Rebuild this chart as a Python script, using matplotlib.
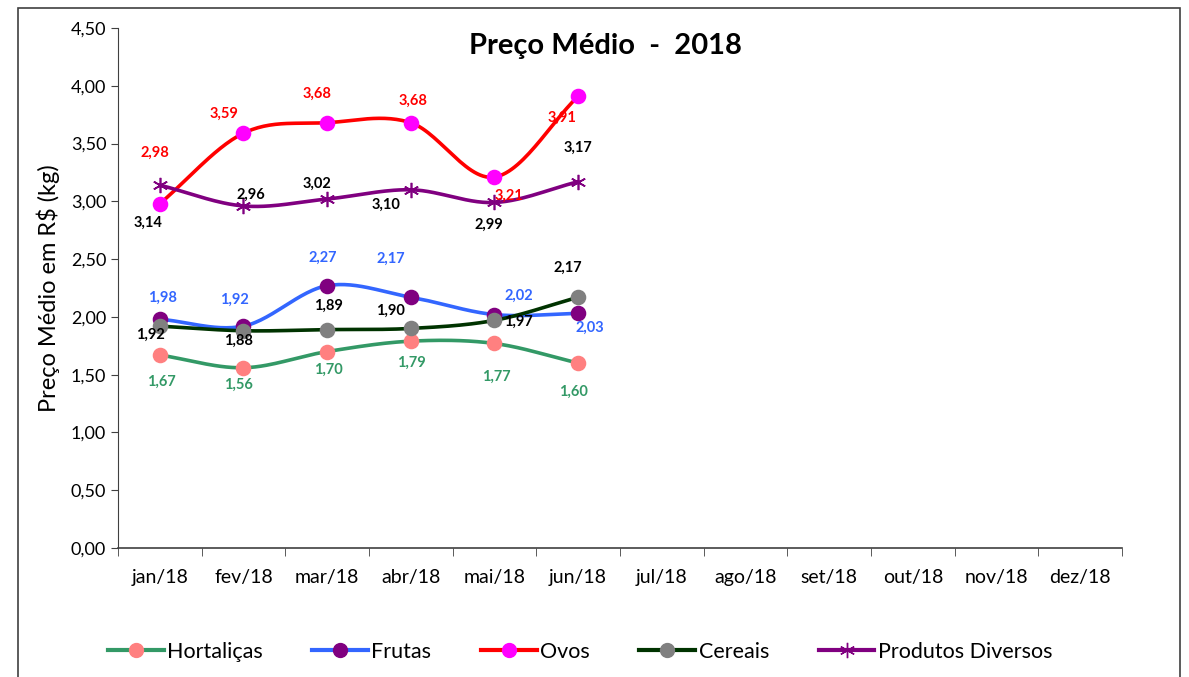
import matplotlib
matplotlib.use("Agg")
import matplotlib.pyplot as plt
import numpy as np
from matplotlib.patches import Rectangle

months = ["jan/18", "fev/18", "mar/18", "abr/18", "mai/18", "jun/18",
          "jul/18", "ago/18", "set/18", "out/18", "nov/18", "dez/18"]
hortalicas = [1.67, 1.56, 1.70, 1.79, 1.77, 1.60]
frutas = [1.98, 1.92, 2.27, 2.17, 2.02, 2.03]
ovos = [2.98, 3.59, 3.68, 3.68, 3.21, 3.91]
cereais = [1.92, 1.88, 1.89, 1.90, 1.97, 2.17]
diversos = [3.14, 2.96, 3.02, 3.10, 2.99, 3.17]

plt.rcParams['font.family'] = ['Lato', 'DejaVu Sans']

def smooth(x, y, n=30):
    x = np.asarray(x, float); y = np.asarray(y, float)
    px = np.concatenate([[2*x[0]-x[1]], x, [2*x[-1]-x[-2]]])
    py = np.concatenate([[2*y[0]-y[1]], y, [2*y[-1]-y[-2]]])
    xs, ys = [], []
    for i in range(1, len(px)-2):
        t = np.linspace(0, 1, n)
        for arr, out in ((px, xs), (py, ys)):
            p0, p1, p2, p3 = arr[i-1], arr[i], arr[i+1], arr[i+2]
            out.extend(0.5*((2*p1) + (-p0+p2)*t + (2*p0-5*p1+4*p2-p3)*t**2
                            + (-p0+3*p1-3*p2+p3)*t**3))
    return np.array(xs), np.array(ys)

fig = plt.figure(figsize=(11.89, 6.77), dpi=100)
ax = fig.add_axes([118/1189, 1-548/677, (1122-118)/1189, 520/677])

series = [
    ("Hortaliças", hortalicas, "#339966", "#FF8080", "o", "#339966",
     [(2, -27), (-5, -17), (1, -18), (1, -22), (2, -33), (-5, -29)]),
    ("Frutas", frutas, "#3366FF", "#800080", "o", "#3366FF",
     [(3, 21), (-9, 26), (-4, 28), (-20, 38), (24, 19), (12, -14)]),
    ("Ovos", ovos, "#FF0000", "#FF00FF", "o", "#FF0000",
     [(-5, 51), (-19, 19), (-10, 29), (2, 22), (14, -19), (-16, -22)]),
    ("Cereais", cereais, "#003300", "#808080", "o", "#000000",
     [(-9, -9), (-5, -10), (1, 24), (-20, 18), (24, -1), (-10, 29)]),
    ("Produtos Diversos", diversos, "#800080", "#800080", (6, 2, 0), "#000000",
     [(-12, -38), (7, 11), (-10, 15), (-25, -15), (-6, -22), (0, 34)]),
]

xpos = np.arange(len(hortalicas))
for name, vals, lc, mc, mk, tc, offs in series:
    sx, sy = smooth(xpos, vals)
    ms = 10 if mk == "o" else 11
    ax.plot(sx, sy, color=lc, lw=2.6, zorder=2, solid_capstyle='round')
    ax.plot(xpos, vals, linestyle='none', marker=mk, markersize=ms,
            markerfacecolor=mc, markeredgecolor=mc, markeredgewidth=1.2, zorder=3)
    ax.plot([], [], color=lc, lw=3, marker=mk, markersize=ms,
            markerfacecolor=mc, markeredgecolor=mc, label=name)
    for xi, v, (dx, dy) in zip(xpos, vals, offs):
        ax.annotate(f"{v:.2f}".replace(".", ","), (xi, v), xytext=(dx*0.72, dy*0.72),
                    textcoords='offset points', ha='center', va='center',
                    fontsize=10.5, fontweight='bold', color=tc, zorder=4)

ax.set_xlim(-0.5, len(months)-0.5)
ax.set_ylim(0, 4.5)
yt = np.arange(0, 4.51, 0.5)
ax.set_yticks(yt)
ax.set_yticklabels([f"{v:.2f}".replace(".", ",") for v in yt], fontsize=13)
ax.set_xticks(np.arange(len(months)))
ax.set_xticklabels(months, fontsize=14)
ax.set_xticks(np.arange(len(months)+1)-0.5, minor=True)
ax.tick_params(axis='x', which='major', length=0, pad=15)
ax.tick_params(axis='x', which='minor', length=6, color='#404040')
ax.tick_params(axis='y', length=5, color='#404040')
for s in ("top", "right"):
    ax.spines[s].set_visible(False)
ax.spines['left'].set_color('#404040')
ax.spines['bottom'].set_color('#404040')
ax.spines['bottom'].set_linewidth(1.2)

ax.set_ylabel("Preço Médio em R$ (kg)", fontsize=17, labelpad=8)
fig.text(605/1189, 1-46/677, "Preço Médio  -  2018", ha='center', va='center',
         fontsize=21, fontweight='bold')

fig.legend(loc='center', bbox_to_anchor=(580/1189, 1-652/677), ncol=5, frameon=False,
           fontsize=15.5, handlelength=2.6, columnspacing=2.3, handletextpad=0.15)

fig.patches.append(Rectangle((18/1189, -0.1), (1180-18)/1189, 1.1 - 8/677,
                             transform=fig.transFigure, fill=False,
                             edgecolor='#404040', lw=1.2))

fig.savefig("out.png", dpi=100)
